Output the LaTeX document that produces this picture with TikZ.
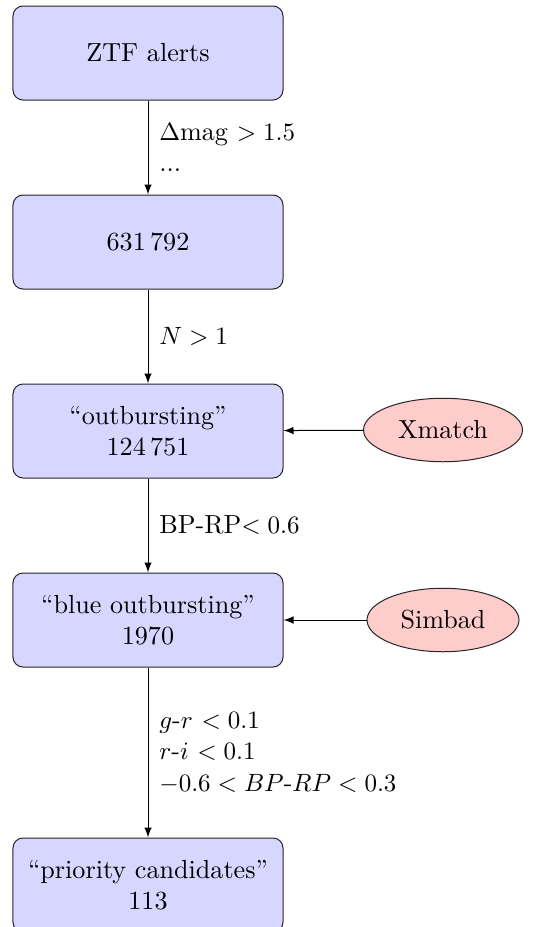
\documentclass[tikz,border=0pt]{standalone}
\usetikzlibrary{shapes.geometric,arrows}
\definecolor{boxfill}{RGB}{214,214,255}
\definecolor{ellfill}{RGB}{255,204,204}
\begin{document}
\begin{tikzpicture}[x=0.4pt,y=-0.4pt,
  every node/.style={font=\fontsize{10.45pt}{12.6pt}\selectfont},
  stagebox/.style={draw=black!85, fill=boxfill, rounded corners=4pt, minimum width=108pt, minimum height=37.6pt, align=center, inner sep=0pt},
  srcell/.style={draw=black!85, fill=ellfill, ellipse, minimum height=25.4pt, inner sep=0pt},
  flow/.style={-latex, black},
  cond/.style={midway, right=1pt, align=left}]
\useasboundingbox (0,0) rectangle (533,927);
\node[stagebox] (ztf) at (148,53) {ZTF alerts};
\node[stagebox] (n1) at (148,242) {631\,792};
\node[stagebox] (n2) at (148,431) {``outbursting''\\124\,751};
\node[stagebox] (n3) at (148,620) {``blue outbursting''\\1970};
\node[stagebox] (n4) at (148,885) {``priority candidates''\\113};
\node[srcell, minimum width=63.6pt] (xm) at (443,430) {Xmatch};
\node[srcell, minimum width=60.8pt] (sb) at (443,620) {Simbad};
\draw[flow] (ztf) -- (n1) node[cond] {$\Delta$mag $> 1.5$\\...};
\draw[flow] (n1) -- (n2) node[cond] {$N > 1$};
\draw[flow] (n2) -- (n3) node[cond] {BP-RP$< 0.6$};
\draw[flow] (n3) -- (n4) node[cond] {$g$-$r$ $< 0.1$\\$r$-$i$ $< 0.1$\\$-0.6 < BP$-$RP < 0.3$};
\draw[flow] (xm) -- (n2);
\draw[flow] (sb) -- (n3);
\end{tikzpicture}
\end{document}
